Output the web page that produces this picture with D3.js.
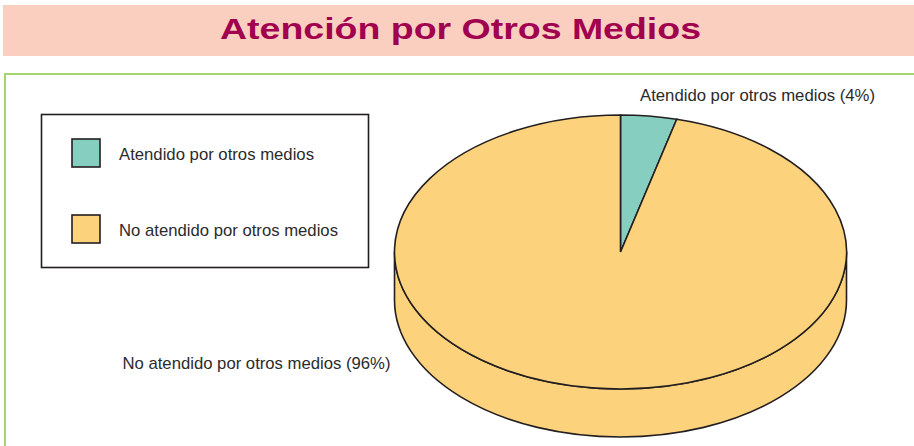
<!DOCTYPE html>
<html>
<head>
<meta charset="utf-8">
<script src="https://cdn.jsdelivr.net/npm/d3@7"></script>
<style>
  html, body { margin: 0; padding: 0; background: #ffffff; }
  svg { display: block; }
</style>
</head>
<body>
<svg id="chart" width="914" height="446"></svg>
<script>
// Share of cases attended through other means
const categories = ["Atendido por otros medios", "No atendido por otros medios"];
const values = [4, 96];
const sliceLabels = ["Atendido por otros medios (4%)", "No atendido por otros medios (96%)"];
const colors = ["#86cfc0", "#fdd27c"];
const title = "Atención por Otros Medios";

const svg = d3.select("#chart");
const W = 914, H = 446;
const strokeCol = "#231f20";
const textCol = "#2b2b2b";
const font = "'Liberation Sans', Arial, Helvetica, sans-serif";

// Title banner
svg.append("rect").attr("x", 3).attr("y", 5).attr("width", W - 3).attr("height", 51)
  .attr("fill", "#fbcfc0");
svg.append("text")
  .attr("x", 220).attr("y", 38.5)
  .attr("font-family", font).attr("font-weight", "bold").attr("font-size", 29.5)
  .attr("fill", "#a1004f")
  .attr("textLength", 481).attr("lengthAdjust", "spacingAndGlyphs")
  .text(title);

// Plot frame (open at the bottom and right edges)
svg.append("path")
  .attr("d", `M5,${H} L5,74 L${W},74`)
  .attr("fill", "none").attr("stroke", "#a3d670").attr("stroke-width", 2);

// Legend
const legend = svg.append("g");
legend.append("rect").attr("x", 41.5).attr("y", 114.5).attr("width", 327).attr("height", 153)
  .attr("fill", "#fff").attr("stroke", strokeCol).attr("stroke-width", 1.6);
const legendY = d3.scalePoint().domain(categories).range([139, 215]);
const legendTextW = [195, 219];
categories.forEach((c, i) => {
  legend.append("rect").attr("x", 72).attr("y", legendY(c)).attr("width", 28).attr("height", 28)
    .attr("fill", colors[i]).attr("stroke", strokeCol).attr("stroke-width", 1.6);
  legend.append("text").attr("x", 119).attr("y", legendY(c) + 20.5)
    .attr("font-family", font).attr("font-size", 17).attr("fill", textCol)
    .attr("textLength", legendTextW[i]).attr("lengthAdjust", "spacingAndGlyphs")
    .text(c);
});

// 3D pie: top ellipse plus the visible front wall
const cx = 620.5, cy = 252, rx = 226, ry = 137, depth = 48;
const pie = d3.pie().sort(null).startAngle(0).endAngle(2 * Math.PI);
const arcs = pie(values);
const arc = d3.arc().innerRadius(0).outerRadius(rx);

// Front wall (belongs to the large slice, which covers the whole front half)
const wall = d3.path();
wall.moveTo(cx - rx, cy);
wall.lineTo(cx - rx, cy + depth);
const wallD = wall.toString() +
  ` A${rx},${ry} 0 0 0 ${cx + rx},${cy + depth}` +
  ` L${cx + rx},${cy}` +
  ` A${rx},${ry} 0 0 1 ${cx - rx},${cy} Z`;
svg.append("path").attr("d", wallD)
  .attr("fill", colors[1]).attr("stroke", strokeCol).attr("stroke-width", 1.6)
  .attr("stroke-linejoin", "round");

const pieTop = svg.append("g").attr("transform", `translate(${cx},${cy}) scale(1,${ry / rx})`);
pieTop.selectAll("path.slice").data(arcs).join("path")
  .attr("class", "slice")
  .attr("d", arc)
  .attr("fill", (d, i) => colors[i])
  .attr("stroke", strokeCol).attr("stroke-width", 1.6)
  .attr("stroke-linejoin", "miter")
  .attr("vector-effect", "non-scaling-stroke");

// Slice labels
svg.append("text").attr("x", 640).attr("y", 100.5)
  .attr("font-family", font).attr("font-size", 17).attr("fill", textCol)
  .attr("textLength", 235).attr("lengthAdjust", "spacingAndGlyphs")
  .text(sliceLabels[0]);
svg.append("text").attr("x", 122.5).attr("y", 369)
  .attr("font-family", font).attr("font-size", 17).attr("fill", textCol)
  .attr("textLength", 268).attr("lengthAdjust", "spacingAndGlyphs")
  .text(sliceLabels[1]);
</script>
</body>
</html>
